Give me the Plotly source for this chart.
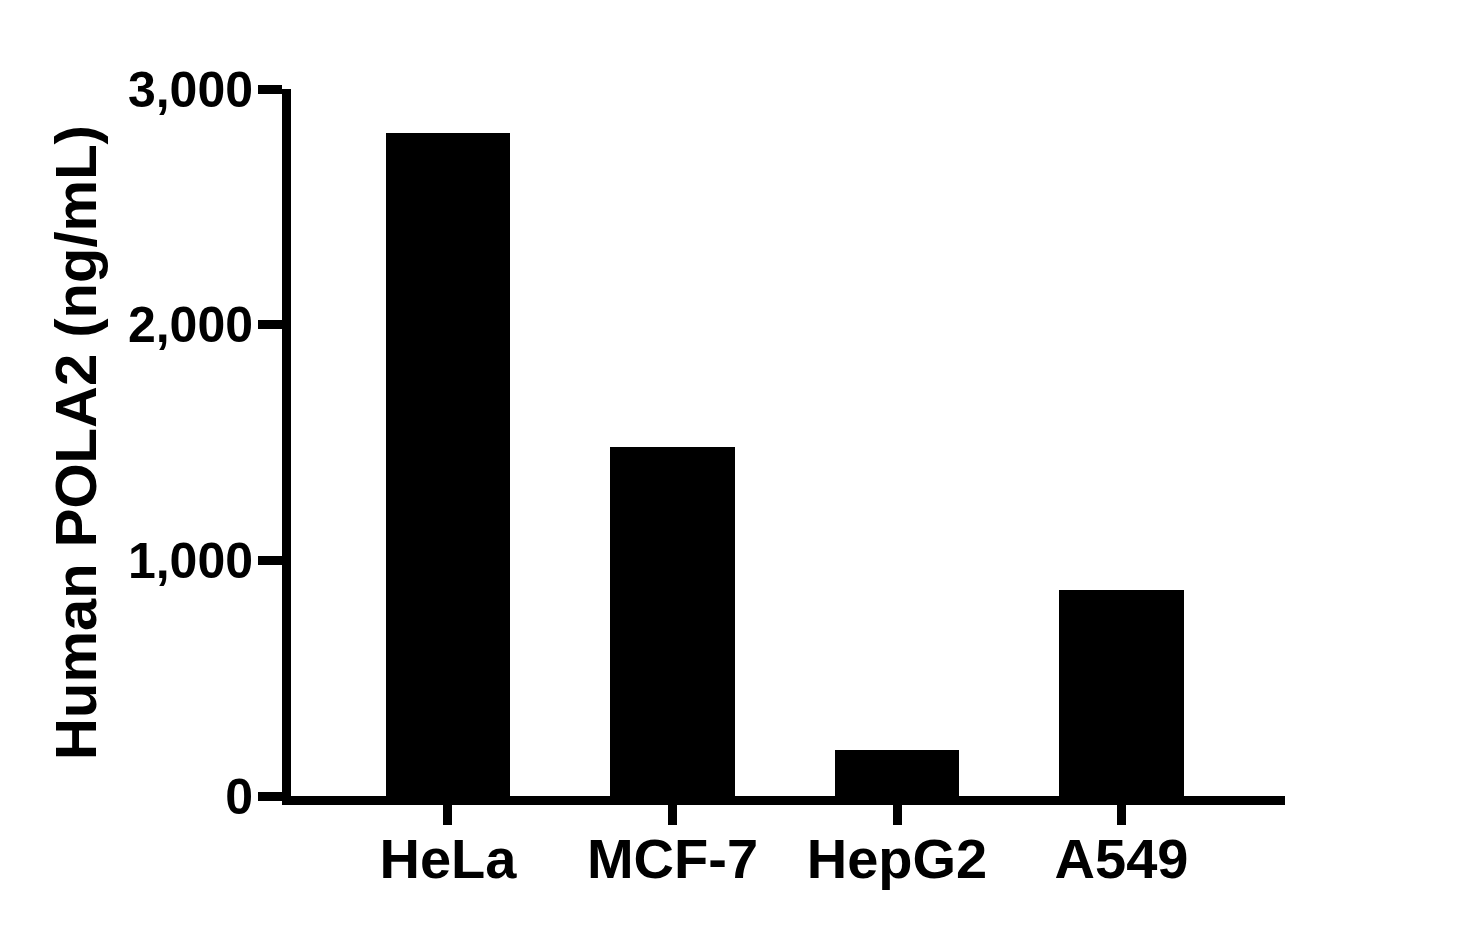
import plotly.graph_objects as go

# values
cell_lines = ['HeLa', 'MCF-7', 'HepG2', 'A549']
pola2_ng_ml = [2814, 1480, 197, 873]

y_ticks = [0, 1000, 2000, 3000]
y_tick_text = ['0', '1,000', '2,000', '3,000']

FONT = 'Liberation Sans, Arial, sans-serif'

fig = go.Figure()
fig.add_trace(go.Bar(
    x=cell_lines,
    y=pola2_ng_ml,
    width=0.555,
    marker=dict(color='black', line=dict(width=0)),
))

# page body adds an 8px offset, margins are compensated for it
fig.update_layout(
    width=1465,
    height=939,
    margin=dict(l=283, r=188, t=81, b=151, autoexpand=False),
    plot_bgcolor='white',
    paper_bgcolor='white',
    showlegend=False,
    font=dict(family=FONT, color='black'),
    bargap=0,
)

fig.update_xaxes(
    range=[-0.699, 3.728],
    showline=True, linecolor='black', linewidth=9,
    ticks='outside', ticklen=20, tickwidth=9, tickcolor='black',
    tickfont=dict(size=56, family=FONT, weight='bold'),
    ticklabelstandoff=-14,
    showgrid=False, zeroline=False,
)

fig.update_yaxes(
    range=[0, 3000],
    tickvals=y_ticks, ticktext=y_tick_text,
    showline=True, linecolor='black', linewidth=9,
    ticks='outside', ticklen=24, tickwidth=9, tickcolor='black',
    tickfont=dict(size=50, family=FONT, weight='bold'),
    ticklabelstandoff=-5,
    showgrid=False, zeroline=False,
    title=dict(text='Human POLA2 (ng/mL)',
               font=dict(size=58, family=FONT, weight='bold'),
               standoff=16),
)

fig.write_html('out.html')
